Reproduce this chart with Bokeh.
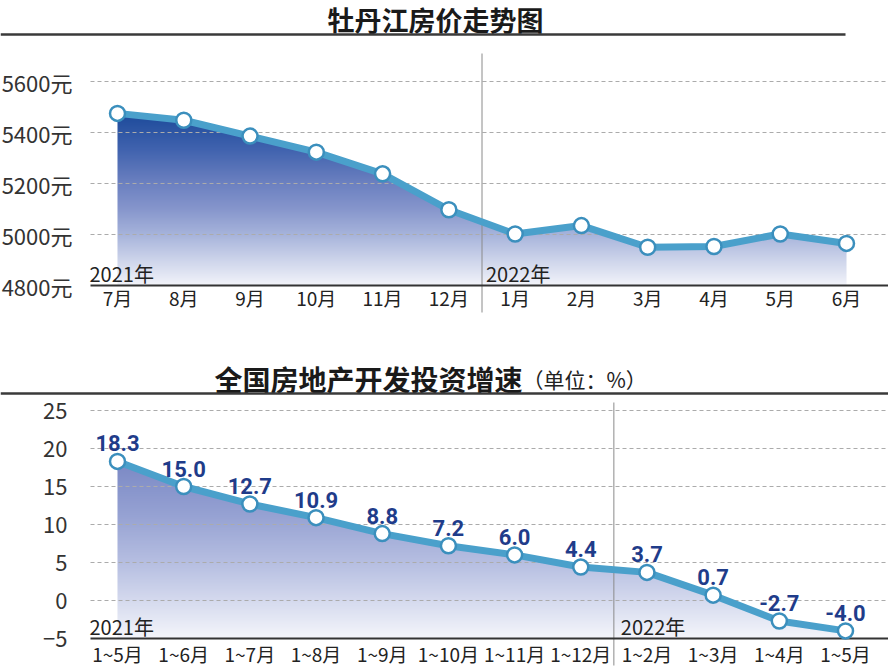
import numpy as np
from bokeh.plotting import figure
from bokeh.layouts import column
from bokeh.models import Range1d, FixedTicker, ColumnDataSource
from bokeh.core.properties import value
from bokeh.embed import file_html
from bokeh.resources import INLINE

# ---------------- data ----------------
price_title = "牡丹江房价走势图"
price_months = ["7月", "8月", "9月", "10月", "11月", "12月",
                "1月", "2月", "3月", "4月", "5月", "6月"]
price_values = [5475, 5448, 5386, 5323, 5238, 5097,
                5002, 5035, 4950, 4953, 5002, 4965]
price_ticks = [4800, 5000, 5200, 5400, 5600]
price_split = 6   # index of first month of 2022

inv_title = "全国房地产开发投资增速"
inv_unit = "（单位：%）"
inv_periods = ["1~5月", "1~6月", "1~7月", "1~8月", "1~9月", "1~10月",
               "1~11月", "1~12月", "1~2月", "1~3月", "1~4月", "1~5月"]
inv_values = [18.3, 15.0, 12.7, 10.9, 8.8, 7.2, 6.0, 4.4, 3.7, 0.7, -2.7, -4.0]
inv_ticks = [-5, 0, 5, 10, 15, 20, 25]
inv_split = 8     # index of first period of 2022

years = ["2021年", "2022年"]

# ---------------- style ----------------
CJK = "Noto Sans CJK SC"
LINE = "#4aa0cb"
MARK_EDGE = "#3b8fbd"
GRID = "#ababab"
AXIS = "#333333"
SEP = "#8a8a8a"
RULE = "#3a3a3a"
LABEL_BLUE = "#1f3c8a"
LEFT = 90
W = 888

price_stops = [(0.0, "#f3f4fa"), (0.3, "#a6b3db"), (0.45, "#8595cc"),
               (0.6, "#6b80c0"), (0.8, "#3f62ae"), (1.0, "#1d4b9b")]
inv_stops = [(0.0, "#f5f6fb"), (0.2, "#d7dcef"), (0.4, "#bac2e3"),
             (0.7, "#96a2d3"), (1.0, "#7b89c5")]


def hex_rgb(h):
    h = h.lstrip("#")
    return [int(h[i:i + 2], 16) for i in (0, 2, 4)]


def gradient(stops, n=256):
    ts = np.linspace(0, 1, n)
    img = np.empty((n, 2), dtype=np.uint32)
    view = img.view(dtype=np.uint8).reshape((n, 2, 4))
    for c in range(3):
        ch = np.interp(ts, [s[0] for s in stops], [hex_rgb(s[1])[c] for s in stops])
        view[:, :, c] = ch.astype(np.uint8)[:, None]
    view[:, :, 3] = 255
    return img


def chart(cats, vals, ticks, split, stops, height, base_px, x_first_px, x_last_px,
          px_per_unit, sep_top_px, sep_bot_px, year_dx, xlab_standoff, ylab_standoff):
    n = len(cats)
    idx = list(range(n))
    step = (x_last_px - x_first_px) / (n - 1)
    xs = -x_first_px / step
    xe = (n - 1) + (W - x_last_px) / step
    y0 = ticks[0]
    ys = y0 - (height - base_px) / px_per_unit
    ye = y0 + base_px / px_per_unit

    def xd(px):
        return xs + px / step

    def yd(py):
        return ye - py / px_per_unit

    p = figure(width=W, height=height, x_range=Range1d(xs, xe), y_range=Range1d(ys, ye),
               output_backend="svg", toolbar_location=None, min_border=0)
    p.outline_line_color = None
    p.grid.visible = False

    vmax = max(vals)
    p.image_rgba(image=[gradient(stops)], x=0, y=y0, dw=n - 1, dh=vmax - y0)
    mx = [xd(LEFT)] + idx + [xe]
    my = [vals[0]] + list(vals) + [vals[-1]]
    p.varea(x=mx, y1=my, y2=[ye] * len(mx), fill_color="white")

    gl = ticks[1:]
    p.segment(x0=[xd(LEFT)] * len(gl), y0=gl, x1=[xe] * len(gl), y1=gl,
              line_color=GRID, line_dash="4 3", line_width=1.1)
    sep = split - 0.5
    p.segment(x0=[sep], y0=[yd(sep_top_px)], x1=[sep], y1=[yd(sep_bot_px)],
              line_color=SEP, line_width=1)
    p.segment(x0=[xd(LEFT)], y0=[y0], x1=[xe], y1=[y0], line_color=AXIS, line_width=2)

    p.line(idx, vals, line_color=LINE, line_width=7, line_join="round", line_cap="round")
    p.scatter(idx, vals, size=15, fill_color="white", line_color=MARK_EDGE, line_width=2.5)

    src = ColumnDataSource(dict(x=[xd(LEFT), sep], y=[y0, y0], t=years, off=[-1, year_dx]))
    p.text(x="x", y="y", text="t", x_offset="off", source=src, y_offset=-12,
           text_font=value(CJK), text_font_size="20px", text_color="#222222",
           text_baseline="middle", text_align="left")

    p.xaxis.fixed_location = y0
    p.xaxis.ticker = FixedTicker(ticks=idx)
    p.xaxis.major_label_overrides = {i: c for i, c in enumerate(cats)}
    p.xaxis.major_tick_line_color = None
    p.xaxis.minor_tick_line_color = None
    p.xaxis.axis_line_color = None
    p.xaxis.major_label_text_font = CJK
    p.xaxis.major_label_text_font_size = "19px"
    p.xaxis.major_label_text_color = "#222222"
    p.xaxis.major_label_standoff = xlab_standoff

    p.yaxis.fixed_location = xd(LEFT)
    p.yaxis.ticker = FixedTicker(ticks=ticks)
    p.yaxis.major_tick_line_color = None
    p.yaxis.minor_tick_line_color = None
    p.yaxis.axis_line_color = None
    p.yaxis.major_label_text_font = CJK
    p.yaxis.major_label_text_font_size = "22px"
    p.yaxis.major_label_text_color = "#333333"
    p.yaxis.major_label_standoff = ylab_standoff
    return p, xd, yd


# ---------------- top block ----------------
c1, xd1, yd1 = chart(price_months, price_values, price_ticks, price_split, price_stops,
                     335, 285, 117, 846, 0.255, 53, 312, 4, -8, 12)
c1.yaxis.major_label_overrides = {t: f"{t}元" for t in price_ticks}
c1.text(x=[xd1(435)], y=[yd1(19)], text=[price_title], text_font=value(CJK),
        text_font_style="bold", text_font_size="27px", text_color="#1a1a1a",
        text_align="center", text_baseline="middle")
c1.segment(x0=[xd1(0)], y0=[yd1(34)], x1=[xd1(845)], y1=[yd1(34)],
           line_color=RULE, line_width=2.5)

# ---------------- bottom block ----------------
c2, xd2, yd2 = chart(inv_periods, inv_values, inv_ticks, inv_split, inv_stops,
                     335, 303, 117, 845, 7.6, 67, 330, 7, -5, 17)
c2.text(x=[xd2(522)], y=[yd2(43)], text=[inv_title], text_font=value(CJK),
        text_font_style="bold", text_font_size="28px", text_color="#1a1a1a",
        text_align="right", text_baseline="middle")
c2.text(x=[xd2(522)], y=[yd2(43)], text=[inv_unit], text_font=value(CJK),
        text_font_size="21px", text_color="#222222",
        text_align="left", text_baseline="middle")
c2.segment(x0=[xd2(0)], y0=[yd2(58)], x1=[xd2(W)], y1=[yd2(58)],
           line_color=RULE, line_width=2.5)
c2.text(x=list(range(len(inv_values))), y=inv_values, text=[f"{v:.1f}" for v in inv_values],
        text_font=value("Roboto"), text_font_style="bold",
        text_font_size="22px", text_color=LABEL_BLUE, text_align="center",
        text_baseline="middle", y_offset=-18)

layout = column(c1, c2, spacing=0)
open("out.html", "w").write(file_html(layout, INLINE))
